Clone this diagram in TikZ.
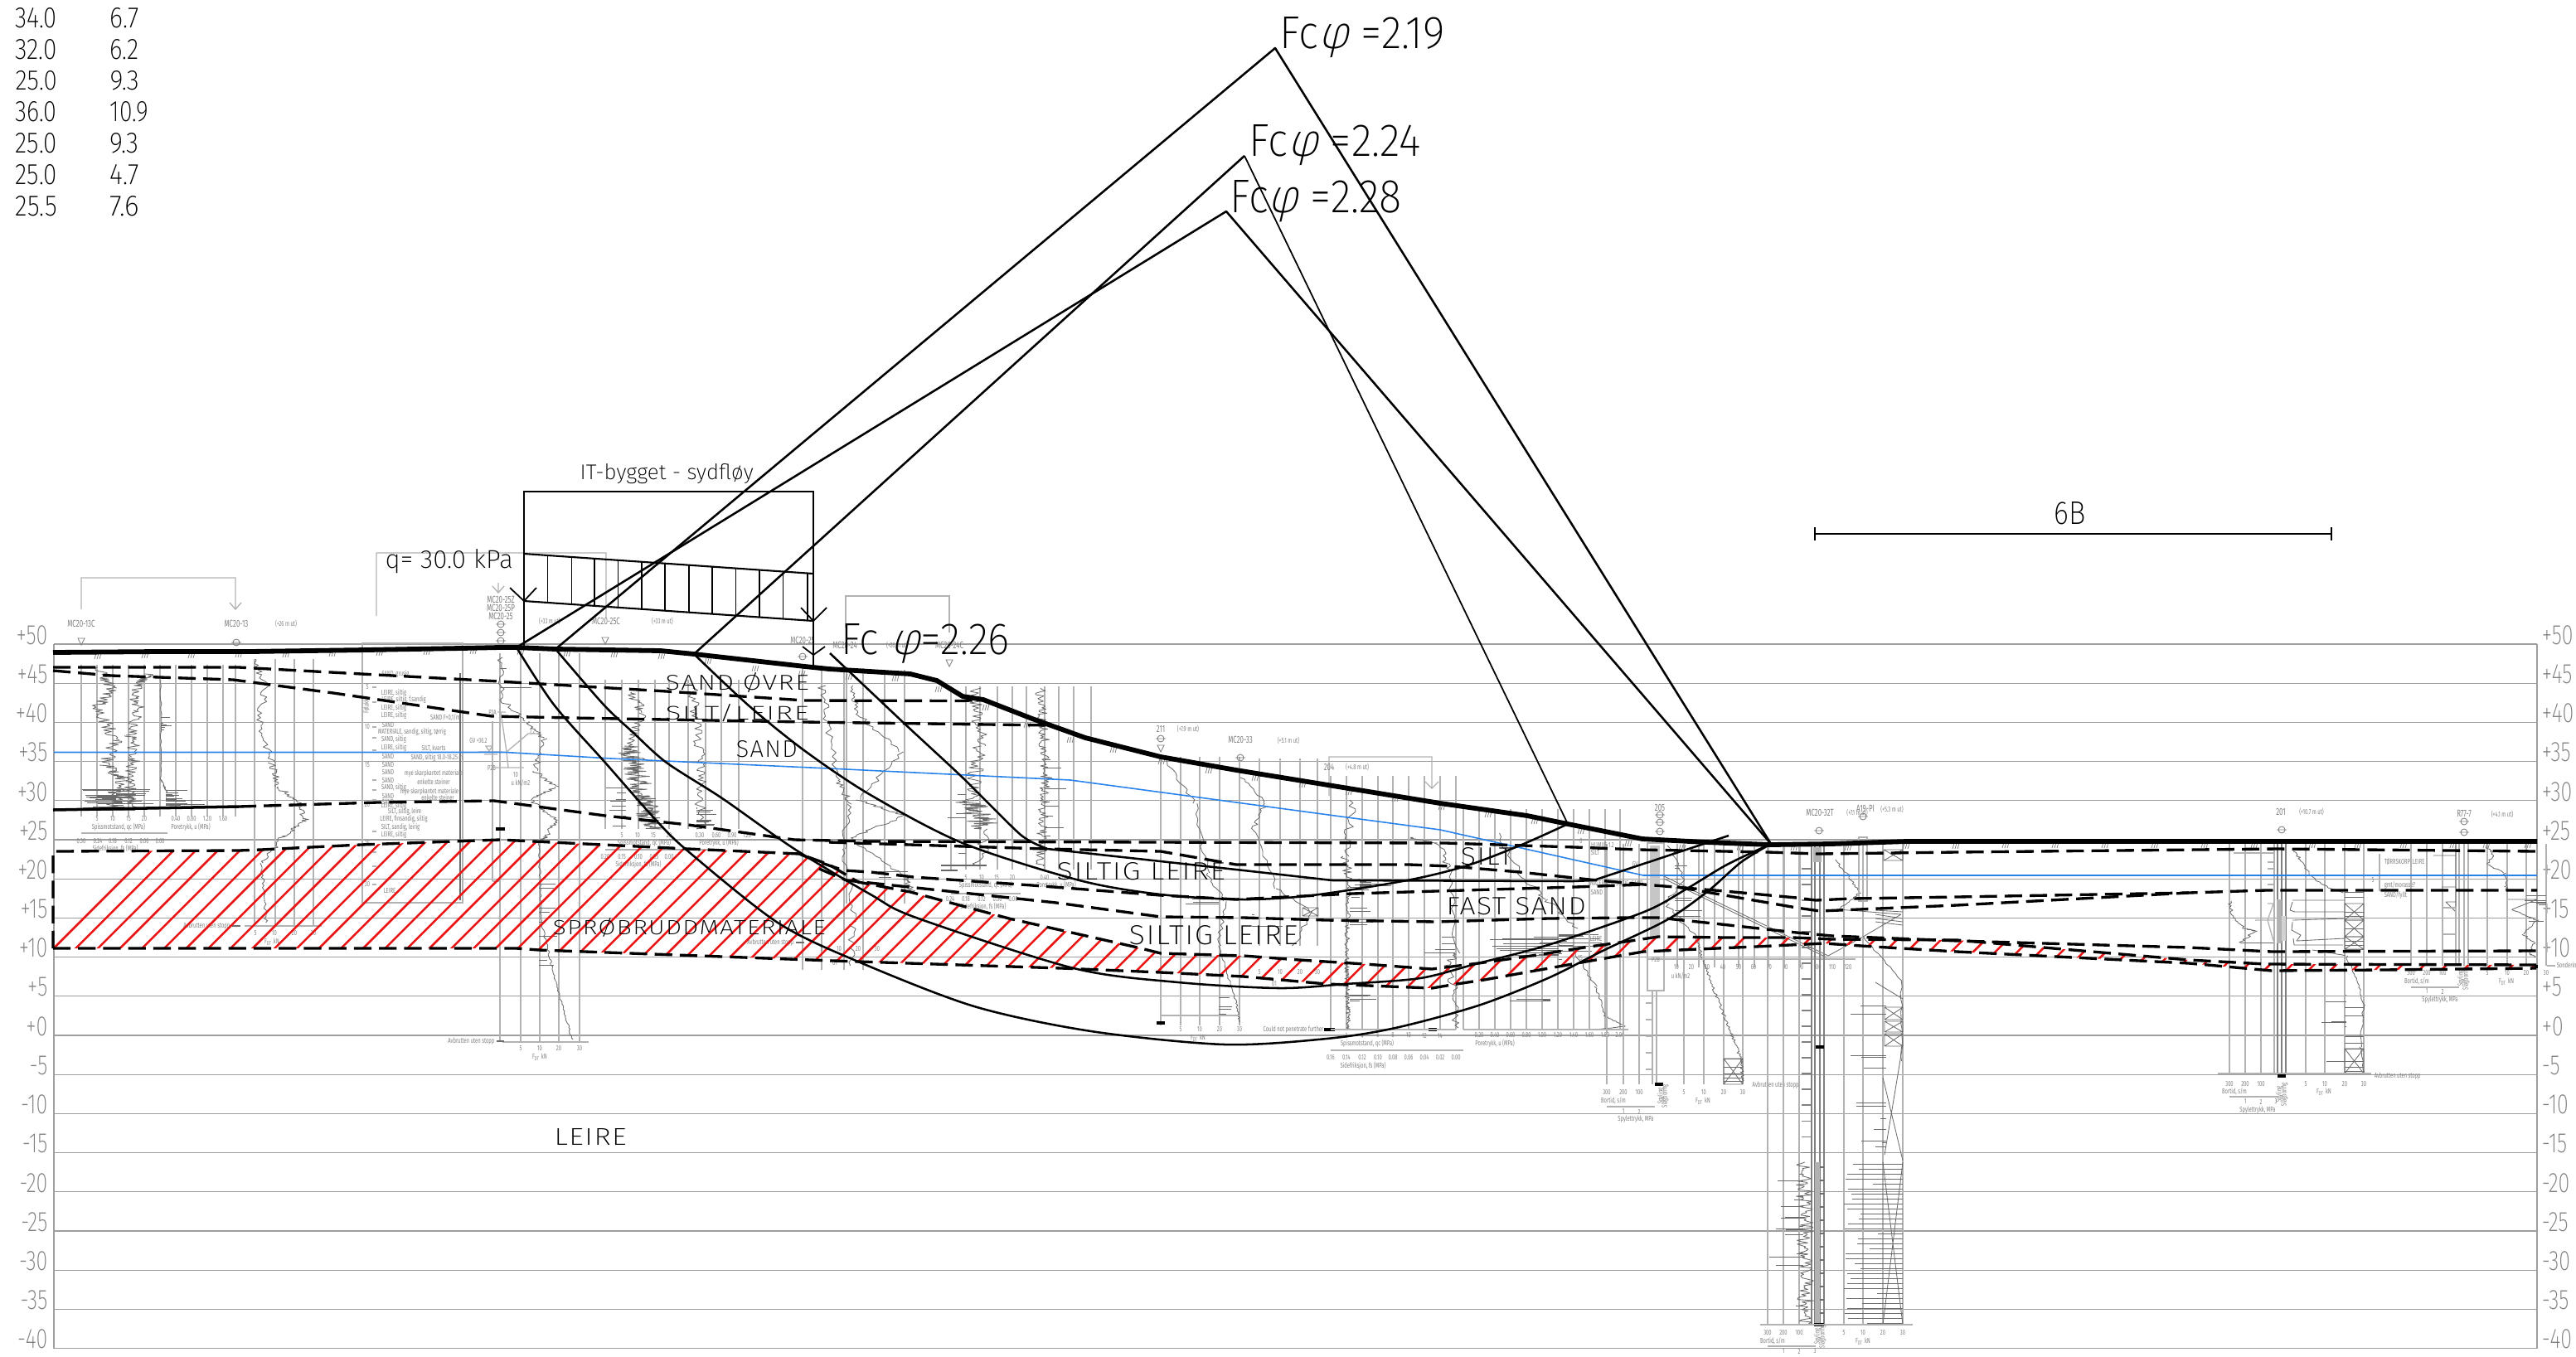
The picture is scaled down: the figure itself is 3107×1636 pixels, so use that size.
\documentclass[tikz,border=0pt]{standalone}
\usepackage{fontspec}
\usepackage{graphicx}
\setmainfont{Fira Sans Light}
\newfontfamily\iso{Fira Sans ExtraLight}
\newfontfamily\isosp{Fira Sans ExtraLight}[LetterSpace=4,FakeStretch=0.92]
\newfontfamily\isoslant{Fira Sans ExtraLight}[FakeSlant=0.25]
\newfontfamily\ison{Fira Sans ExtraLight}[FakeStretch=0.74]
\newfontfamily\isot{Fira Sans}[FakeStretch=0.66]
\definecolor{gridc}{gray}{0.62}
\definecolor{vc}{gray}{0.70}
\definecolor{trc}{gray}{0.42}
\definecolor{tinyc}{gray}{0.50}
\definecolor{numc}{gray}{0.50}
\definecolor{wat}{RGB}{40,130,235}
\definecolor{hat}{RGB}{235,20,20}
\newcounter{nn}
\tikzset{
 gline/.style={draw=gridc,line width=0.34pt},
 vline/.style={draw=vc,line width=0.38pt},
 trline/.style={draw=trc,line width=0.24pt,line join=round},
 gnd/.style={draw=black,line width=1.65pt,line join=round},
 dsh/.style={draw=black,line width=0.95pt,dash pattern=on 6pt off 2.6pt},
 surf/.style={draw=black,line width=0.72pt,line join=round},
 thinsurf/.style={draw=black,line width=0.5pt},
 redh/.style={draw=hat,line width=0.72pt},
 blk/.style={draw=black,line width=0.5pt},
 numlab/.style={inner sep=0,text=numc,font=\ison\fontsize{9.6}{10}\selectfont},
 gtext/.style={inner sep=0,text=tinyc,font=\isot\fontsize{3.4}{3.8}\selectfont},
 gsmall/.style={inner sep=0,text=tinyc,font=\isot\fontsize{2.5}{3}\selectfont},
}
% x0, x1, baseline, top, text
\newcommand\lab[5]{\stepcounter{nn}\pgfmathsetmacro\wlab{(#2-#1)*0.01}\pgfmathsetmacro\hlab{(#3-#4)*0.01}%
 \node[anchor=base west,inner sep=0,text=black] (L\thenn) at (#1,#3) {\resizebox{\wlab cm}{\hlab cm}{\iso #5}};}
\newcommand\gtx[3]{\stepcounter{nn}\node[gtext] (T\thenn) at (#1,#2) {#3};}
\newcommand\gsx[3]{\stepcounter{nn}\node[gsmall] (S\thenn) at (#1,#2) {#3};}
\newcommand\gsw[3]{\stepcounter{nn}\node[gsmall,anchor=west] (S\thenn) at (#1,#2) {#3};}
\newcommand\gsr[3]{\stepcounter{nn}\node[gsmall,anchor=east] (S\thenn) at (#1,#2) {#3};}
\newcommand\gsv[3]{\stepcounter{nn}\node[gsmall,rotate=90] (S\thenn) at (#1,#2) {#3};}
\newcommand\fdt{F\raisebox{-0.6pt}{\fontsize{1.9}{2}\selectfont DT}\ \ kN}
\newcommand\vlin[3]{\foreach \xv in {#3} {\draw[vline] (\xv,#1)--(\xv,#2);}}
\newcommand\jag[6]{\draw[trline] plot[variable=\t,domain=0:1,samples=#6] ({#1+(#3-#1)*\t+(#5)*rand},{#2+(#4-#2)*\t});}
\newcommand\chain[5]{\foreach \xc/\yc [remember=\xc as \lxc (initially #3),remember=\yc as \lyc (initially #4)] in {#5} {\jag{\lxc}{\lyc}{\xc}{\yc}{#1}{#2}}}
\newcommand\spk[5]{\foreach \ii in {1,...,#5} {\pgfmathsetmacro\yys{#3+rnd*(#4-#3)}\pgfmathsetmacro\xxs{#1+rnd*(#2)}\draw[trline] (#1,\yys)--(\xxs,\yys);}}
\newcommand\xbx[4]{\draw[trline] (#1,#3) rectangle (#2,#4) (#1,#3)--(#2,#4) (#2,#3)--(#1,#4);}
\newcommand\symb[2]{\draw[draw=tinyc,line width=0.25pt] (#1,#2) circle (4) (#1-6,#2)--(#1+6,#2);}
\newcommand\trisym[2]{\draw[draw=tinyc,line width=0.25pt] (#1-4,#2-4)--(#1+4,#2-4)--(#1,#2+4)--cycle;}
\newcommand\gmark[2]{\foreach \dd in {0,3,6} {\draw[draw=tinyc,line width=0.22pt] (#1+\dd-5,#2+4)--(#1+\dd-3,#2-3);}}
\begin{document}
\begin{tikzpicture}[x=0.01cm,y=-0.01cm]
\useasboundingbox (0,0) rectangle (3107,1636);
\pgfmathsetseed{11}
% ---------- grid
\foreach \e in {50,45,...,-40} {
 \pgfmathsetmacro\yg{777+(50-\e)*9.44}
 \draw[gline] (65,\yg)--(3060,\yg);
 \pgfmathtruncatemacro\ee{abs(\e)}
 \stepcounter{nn}\node[numlab,anchor=east] (NL\thenn) at (58,\yg-11) {\ifnum\e<0 -\else +\fi\ee};
 \stepcounter{nn}\node[numlab,anchor=west] (NR\thenn) at (3065,\yg-11) {\ifnum\e<0 -\else +\fi\ee};
}
\draw[gline] (65,777)--(65,1627);
\draw[gline] (3060,777)--(3060,1627);
% ---------- header brackets
\draw[vline] (98,735)--(98,697)--(284,697)--(284,735) (277,727)--(284,735)--(291,727);
\draw[vline] (454,743)--(454,667)--(731,667)--(731,745) (601,667)--(601,676) (601,703)--(601,715) (594,707)--(601,715)--(608,707);
\draw[vline] (1020,757)--(1020,719)--(1145,719)--(1145,763);
\draw[vline] (1603,960)--(1603,913)--(1727,913)--(1727,951) (1719,943)--(1727,951)--(1735,943);
% ---------- MC20-13C
\vlin{802}{985}{98,117,136,155,174,193,212,231,250,269,284}
\gtx{98}{752}{MC20-13C}\gtx{285}{752}{MC20-13}\gsx{345}{752}{(+26 m ut)}
\trisym{98}{774}\symb{285}{775}
\chain{9}{24}{117}{805}{136/830,118/853,140/893,128/923,148/940,135/975}
\chain{8}{24}{179}{813}{162/833,167/857,158/887,163/913,155/943,160/975}
\chain{1}{30}{194}{820}{194/940,202/957}
\spk{140}{-42}{952}{978}{30}\spk{140}{45}{952}{978}{28}
\spk{200}{50}{953}{975}{18}\spk{194}{18}{860}{885}{6}
\foreach \a/\b in {117/5,136/10,155/15,174/20,212/0.40,231/0.80,250/1.20,269/1.60} {\gsx{\a}{988}{\b}}
\gsx{143}{998}{Spissmotstand, qc (MPa)}\gsx{230}{998}{Poretrykk, u (MPa)}
\draw[vline] (98,1005)--(202,1005);
\foreach \a/\b in {98/0.30,118/0.24,136/0.18,155/0.12,174/0.06,193/0.00} {\gsx{\a}{1015}{\b}}
\gsx{139}{1024}{Sidefriksjon, fs (MPa)}
% ---------- MC20-13
\vlin{795}{1117}{307,332,355,378}
\chain{5}{18}{305}{795}{321/827,312/874,328/920,335/949,362/970,368/991,341/1009,315/1041}
\chain{2}{30}{315}{1041}{321/1113}
\draw[vline] (295,1117)--(388,1117);
\foreach \a/\b in {308/5,331/10,355/20,378/30} {\gsx{\a}{1126}{\b}}
\gsx{328}{1136}{\fdt}\gsr{278}{1117}{Avbrutten uten stopp}
\draw[draw=trc,line width=.6pt] (280,1117)--(290,1117);
% ---------- borehole description
\draw[vline] (437,776) rectangle (558,1089);
\draw[draw=trc,line width=0.7pt] (555,812)--(555,1086);
\foreach \yy in {829,847,877,890,905,941,953,965,1003,1028,1045,1067} {\draw[vline] (449,\yy)--(454,\yy);}
\foreach \a/\b in {829/5,877/10,923/15,971/20,1018/25,1067/30} {\gsx{443}{\a}{\b}}
\gsv{442}{852}{Følakk}
\foreach \a/\b/\c in {477/813/{SAND, grusig},475/836/{LEIRE, siltig},487/844/{LEIRE, siltig, f.sandig},475/854/{LEIRE, siltig},475/863/{LEIRE, siltig},537/866/{SAND F=0,1/m},468/874/{SAND},497/883/{MATERIALE, sandig, siltig, tørrig},475/892/{SAND, siltig},475/902/{LEIRE, siltig},523/903/{SILT, kvarts},468/912/{SAND},527/914/{SAND, siltig 18.0-18.25 m},468/922/{SAND},468/931/{SAND},523/933/{mye skarpkantet materiale},523/943/{enkelte steiner},468/941/{SAND},475/950/{SAND, siltig},518/955/{mye skarpkantet materiale},468/960/{SAND},528/962/{enkelte steiner},468/967/{SAND},475/972/{LEIRE, siltig},488/979/{SILT, siltig, leire},487/988/{LEIRE, finsandig, siltig},483/998/{SILT, sandig, leirig},475/1007/{LEIRE, siltig},470/1074/{LEIRE}} {\gsx{\a}{\b}{\c}}
% ---------- MC20-25
\gtx{604}{723}{MC20-25Z}\gtx{604}{733}{MC20-25P}\gtx{604}{743}{MC20-25}
\symb{604}{753}\symb{604}{763}\symb{604}{773}
\vlin{788}{1256}{603,628,651,674,699}
\draw[vline] (594,870)--(594,1063) (594,1063)--(603,1063);
\chain{4}{16}{603}{793}{606/845,635/870,656/891,645/930,670/949,640/965,670/988,660/1009,650/1016}
\chain{1.2}{40}{650}{1016}{653/1113,670/1184,690/1254}
\spk{650}{22}{1040}{1250}{8}\spk{603}{40}{805}{830}{2}
\draw[vline] (606,1257)--(710,1257);
\foreach \a/\b in {628/5,651/10,674/20,699/30} {\gsx{\a}{1265}{\b}}
\gsx{651}{1275}{\fdt}\gsr{597}{1256}{Avbrutten uten stopp}
\draw[draw=trc,line width=.6pt] (599,1256)--(608,1256);
\gsx{594}{859}{P2A}\gsx{593}{926}{P2B}\gsx{577}{893}{GV +36.2}\gsx{622}{935}{10}\gsx{628}{944}{u kN/m2}\gsx{642}{883}{7.2}
\draw[vline] (604,859)--(611,907)--(613,926) (611,907)--(637,885)--(650,885) (597,926)--(632,926) (600,859)--(610,859);
\draw[vline] (577,907)--(606,907) (584,910)--(600,910) (586,900)--(594,900)--(590,906)--cycle;
\draw[draw=black,line width=1.1pt] (598,1000)--(609,1000);
% ---------- MC20-25C group
\vlin{820}{1000}{730,750,770,790,807,830,851,870,891}
\gsx{663}{749}{(+33 m ut)}\gtx{731}{749}{MC20-25C}\gsx{799}{749}{(+33 m ut)}\trisym{730}{773}
\chain{7}{24}{762}{835}{775/860,760/900}
\chain{15}{70}{760}{900}{775/960,788/1000}
\spk{755}{-32}{895}{1000}{12}
\chain{7}{36}{835}{830}{845/920,845/1000}\spk{840}{30}{970}{1000}{12}
\foreach \a/\b in {750/5,769/10,788/15,807/20,844/0.30,864/0.60,883/0.90,901/1.20} {\gsx{\a}{1008}{\b}}
\gsx{777}{1017}{Spissmotstand, qc (MPa)}\gsx{867}{1017}{Poretrykk, u (MPa)}
\draw[vline] (730,1025)--(864,1025);
\foreach \a/\b in {730/0.20,750/0.15,770/0.10,789/0.05,807/0.00} {\gsx{\a}{1034}{\b}}
\gsx{770}{1043}{Sidefriksjon, fs (MPa)}
% ---------- MC20-24 group
\vlin{806}{1170}{968,991,1018,1041}
\vlin{808}{1090}{1021,1067,1091}
\gtx{968}{772}{MC20-25}\symb{968}{792}
\gtx{1019}{778}{MC20-24}\gsx{1082}{778}{(+26 m ut)}\gtx{1145}{778}{MC20-24C}\trisym{1145}{800}
\chain{5}{16}{991}{827}{998/870,1011/941,1025/970,1018/1024,1028/1098,1028/1165}
\chain{4}{16}{1028}{827}{1035/862,1088/907,1035/965,1091/984,1025/1011,1091/1057,1100/1075}
\spk{1060}{40}{1040}{1060}{4}
\foreach \a/\b in {991/5,1012/10,1035/20,1058/30} {\gsx{\a}{1145}{\b}}
\gsx{1007}{1162}{01}\gsr{958}{1137}{Avbrutten uten stopp}
\draw[draw=trc,line width=.6pt] (960,1137)--(970,1137);
\vlin{828}{1049}{1147,1165,1182,1203,1221,1238,1260,1277,1295,1316}
\chain{10}{36}{1175}{830}{1182/900,1170/965}
\chain{19}{50}{1170}{965}{1190/1000}\chain{8}{16}{1190}{1000}{1180/1045}
\spk{1165}{-22}{950}{1040}{5}
\chain{7}{70}{1255}{830}{1262/940,1255/1045}\spk{1260}{30}{880}{1030}{8}
\draw[draw=black!60,line width=.5pt] (1135,1050)--(1155,1050) (1135,1044)--(1190,1044);
\foreach \a/\b in {1165/5,1184/10,1202/15,1221/20,1260/0.40,1282/0.80} {\gsx{\a}{1059}{\b}}
\gsx{1189}{1068}{Spissmotstand, qc (MPa)}\gsx{1274}{1068}{Poretrykk, u (MPa)}
\draw[vline] (1147,1078)--(1231,1078);
\foreach \a/\b in {1146/0.24,1165/0.18,1184/0.12,1203/0.06,1222/0.00} {\gsx{\a}{1085}{\b}}
\gsx{1186}{1094}{Sidefriksjon, fs (MPa)}
% ---------- 211
\gtx{1400}{879}{211}\gsx{1433}{879}{(+7.9 m ut)}\symb{1400}{891}\trisym{1400}{903}
\vlin{913}{1237}{1400,1424,1447,1471,1495}
\chain{3}{14}{1403}{915}{1442/969,1456/1053,1477/1087,1470/1141}
\chain{1.2}{22}{1470}{1141}{1491/1210,1495/1233}
\spk{1470}{-55}{1075}{1095}{3}\spk{1470}{25}{1195}{1230}{4}
\draw[draw=black,line width=1pt] (1395,1234)--(1405,1234);
\foreach \a/\b in {1424/5,1447/10,1471/20,1495/30} {\gsx{\a}{1242}{\b}}
\gsx{1445}{1252}{\fdt}
\draw[vline] (1400,1225)--(1495,1225);
% ---------- MC20-33
\gtx{1496}{892}{MC20-33}\gsx{1554}{893}{(+5.1 m ut)}\symb{1496}{914}
\vlin{915}{1141}{1519,1544,1568,1589}
\chain{3}{14}{1498}{938}{1526/969,1512/999,1540/1072,1582/1099,1561/1141}
\spk{1510}{40}{1100}{1130}{3}
\foreach \a/\b in {1519/5,1544/10,1568/20,1589/30} {\gsx{\a}{1173}{\b}}
\gsx{1537}{1187}{01}
\xbx{1571}{1590}{1095}{1105}
% ---------- 204
\gtx{1603}{925}{204}\gsx{1637}{925}{(+4.8 m ut)}
\vlin{936}{1242}{1605,1624,1643,1662,1680,1699,1718,1737,1756}
\vlin{976}{1242}{1765,1784,1803,1822,1841,1860,1879,1898,1917,1936,1954}
\chain{6}{20}{1632}{965}{1623/1033,1627/1063}
\chain{3}{55}{1627}{1063}{1624/1150,1625/1200,1626/1242}
\spk{1640}{40}{1060}{1080}{12}\spk{1640}{-25}{1060}{1085}{6}
\spk{1628}{45}{1095}{1120}{6}\spk{1628}{40}{1200}{1208}{5}
\chain{5}{14}{1700}{1010}{1733/1017,1750/1050,1756/1150,1745/1165,1756/1200,1756/1240}
\spk{1755}{-40}{1130}{1150}{4}
\chain{5}{14}{1805}{1005}{1840/1063,1865/1085,1900/1120}
\spk{1880}{-85}{1130}{1155}{16}\spk{1880}{60}{1125}{1160}{16}\spk{1870}{-60}{1205}{1207}{5}
\chain{2}{16}{1900}{1150}{1925/1190,1935/1225,1960/1238,1925/1242}
\draw[draw=black,line width=1pt] (1597,1242)--(1610,1242) (1723,1242)--(1733,1242);
\draw[vline] (1605,1242)--(1756,1242) (1765,1242)--(1964,1242);
\gsx{1560}{1242}{Could not penetrate further}
\foreach \a/\b in {1624/2,1643/4,1662/6,1680/8,1699/10,1718/12,1737/14,1784/0.20,1803/0.40,1822/0.60,1841/0.80,1860/1.00,1879/1.20,1898/1.40,1917/1.60,1936/1.80,1954/2.00} {\gsx{\a}{1249}{\b}}
\gsx{1649}{1259}{Spissmotstand, qc (MPa)}\gsx{1803}{1259}{Poretrykk, u (MPa)}
\draw[vline] (1605,1267)--(1765,1267);
\foreach \a/\b in {1605/0.16,1624/0.14,1643/0.12,1662/0.10,1680/0.08,1699/0.06,1718/0.04,1737/0.02,1756/0.00} {\gsx{\a}{1276}{\b}}
\gsx{1644}{1286}{Sidefriksjon, fs (MPa)}
% ---------- 205
\gtx{2002}{974}{205}\symb{2002}{983}\symb{2002}{992}\symb{2002}{1003}
\vlin{1018}{1308}{1938,1958,1977,2031,2055,2079,2102}
\vlin{1018}{1167}{1917,2023,2049,2068,2097,2116,2133,2152,2171}
\draw[vline] (1987,1017) rectangle (2007,1195);
\draw[fill=gray!45,draw=none] (1990,1020) rectangle (2002,1130);
\vlin{1195}{1308}{1993,1998}
\foreach \yy in {1210,1230,1250,1270,1290} {\draw[vline] (1985,\yy)--(1993,\yy);}
\chain{4}{12}{2013}{1020}{2030/1060,2010/1090,2045/1130}
\chain{2}{30}{2045}{1130}{2057/1167,2080/1227,2100/1277,2102/1305}
\spk{2020}{40}{1040}{1110}{7}
\foreach \yy in {1277,1287,1295,1300,1304} {\draw[trline] (2079,\yy)--(2102,\yy);}
\xbx{2079}{2102}{1277}{1308}
\draw[trline] (2007,1057)--(2205,1153)--(2247,1130) (2007,1060)--(2203,1155);
\draw[vline] (1987,1157)--(2238,1157);
\foreach \a/\b in {2022/10,2040/20,2059/30,2078/40,2097/50,2115/60,2134/70,2153/80,2172/90,2192/100,2210/110,2229/120} {\gsx{\a}{1167}{\b}}
\gsx{2027}{1177}{u kN/m2}
\foreach \a/\b/\c in {1907/1015/0,1933/1019/{HUMUS 1.2},1924/1028/SILT,1950/1066/{MATERIALE, SILTIG, SAND},1926/1076/SAND,1925/1132/LEIRE,1906/1156/15,1997/1157/P2B,1972/1042/GV} {\gsx{\a}{\b}{\c}}
\foreach \a/\b in {1938/300,1958/200,1977/100,2031/5,2055/10,2079/20,2102/30} {\gsx{\a}{1318}{\b}}
\gsx{1946}{1328}{Bortid, s/m}\gsx{2054}{1328}{\fdt}
\draw[vline] (1938,1335)--(1996,1335);
\gsx{1958}{1341}{1}\gsx{1977}{1341}{2}\gsx{1973}{1350}{Spylettrykk, MPa}
\gsw{2113}{1309}{Avbrutten uten stopp}
\draw[draw=black,line width=1pt] (1996,1308)--(2006,1308);
\gsv{2003}{1322}{Spyling}\gsv{2008}{1322}{Slagboring}
% ---------- MC20-32T
\gtx{2195}{980}{MC20-32T}\gsx{2240}{980}{(+7.1 m ut)}\symb{2194}{1002}
\gtx{2250}{975}{A19-PI}\gsx{2282}{976}{(+5.3 m ut)}\symb{2247}{985}
\vlin{1018}{1598}{2132,2151,2170,2224,2247,2271,2295}
\draw[draw=tinyc,line width=.5pt] (2185,1018)--(2185,1598) (2189,1018)--(2189,1598) (2195,1018)--(2195,1598) (2200,1018)--(2200,1598);
\draw[fill=gray!60,draw=none] (2189,1402) rectangle (2195,1598);
\draw[fill=gray!60,draw=none] (2187,1022) rectangle (2197,1040);
\foreach \yy in {1048,1067,...,1400} {\draw[draw=tinyc,line width=.3pt] (2173,\yy)--(2185,\yy);}
\chain{10}{130}{2176}{1402}{2178/1598}
\spk{2175}{-42}{1402}{1598}{18}
\foreach \yy in {1408,1424,...,1596} {\draw[draw=trc,line width=.45pt] (2195,\yy)--(2200,\yy);}
\foreach \yy in {1404,1410,...,1598} {\pgfmathsetmacro\xxq{2224+rnd*rnd*50}\draw[draw=trc,line width=.3pt] (\xxq,\yy)--(2295,\yy);}
\draw[trline] (2271,1402)--(2295,1598) (2295,1402)--(2271,1598) (2271,1300)--(2295,1400) (2295,1260)--(2273,1393);
\chain{2}{12}{2213}{1037}{2230/1057,2243/1077,2217/1097}
\draw[trline] (2217,1097)--(2293,1103) (2293,1103)--(2247,1130);
\chain{1.5}{14}{2247}{1130}{2293/1183,2294/1280}
\foreach \a/\b in {1098/1100,1103/1108,1108/1112,1112/1116,1185/1205} {\draw[trline] (2262,\a)--(2295,\b);}
\xbx{2273}{2295}{1215}{1230}\xbx{2273}{2295}{1232}{1245}\xbx{2273}{2295}{1247}{1262}\xbx{2272}{2295}{1025}{1038}
\spk{2275}{-50}{1205}{1395}{12}
\draw[vline] (2242,1010) rectangle (2252,1087);
\draw[draw=black,line width=1pt] (2190,1263)--(2200,1263) (2188,1598)--(2200,1598);
\draw[vline] (2123,1598)--(2307,1598);
\foreach \a/\b in {2132/300,2151/200,2170/100,2224/5,2247/10,2271/20,2295/30} {\gsx{\a}{1608}{\b}}
\gsx{2138}{1618}{Bortid, s/m}\gsx{2247}{1618}{\fdt}
\draw[vline] (2132,1624)--(2190,1624);
\gsx{2151}{1630}{1}\gsx{2170}{1630}{2}\gsx{2189}{1630}{3}
\gsv{2192}{1612}{Spyling}\gsv{2198}{1612}{Slagboring}
% ---------- 201
\gtx{2751}{979}{201}\gsx{2788}{979}{(+10.7 m ut)}\symb{2752}{1001}
\vlin{1018}{1295}{2689,2708,2727,2743,2781,2804,2828,2851}
\draw[draw=tinyc,line width=.35pt] (2747,1018)--(2747,1295) (2752,1018)--(2752,1295) (2757,1018)--(2757,1295);
\draw[fill=gray!60,draw=none] (2746,1085) rectangle (2752,1138);
\draw[fill=gray!35,draw=none] (2752,1105) rectangle (2757,1135);
\draw[draw=gray!60,line width=.6pt] (2694,1029)--(2743,1029);
\draw[vline] (2735,1040)--(2743,1040) (2735,1048)--(2743,1048) (2735,1067)--(2743,1067) (2728,1074)--(2743,1074);
\chain{2}{10}{2767}{1027}{2777/1040,2787/1057,2807/1070,2826/1077}
\draw[trline] (2765,1086)--(2828,1086) (2765,1088)--(2762,1098)--(2768,1100)--(2828,1100) (2765,1110)--(2828,1108) (2765,1112)--(2764,1122)--(2775,1128)--(2770,1135)--(2828,1132) (2766,1132)--(2767,1140)--(2826,1140);
\chain{1.5}{12}{2790}{1146}{2830/1153,2843/1183,2851/1213,2847/1263,2851/1293}
\chain{3}{12}{2690}{1087}{2692/1107,2707/1120,2720/1123,2703/1137,2740/1137}
\draw[vline] (2720,1110)--(2742,1110) (2735,1090)--(2742,1090)--(2735,1110)--(2742,1135);
\foreach \yy in {1076,1082,1100,1105,1120,1135,1140,1145} {\draw[trline] (2828,\yy)--(2851,\yy);}
\xbx{2828}{2851}{1090}{1110}\xbx{2828}{2851}{1110}{1130}\xbx{2828}{2851}{1130}{1145}
\foreach \yy in {1215,1225,1250,1258,1265,1280,1287,1292} {\draw[trline] (2828,\yy)--(2851,\yy);}
\xbx{2828}{2851}{1265}{1295}\spk{2830}{-30}{1200}{1290}{6}
\draw[vline] (2675,1295)--(2860,1295);
\draw[draw=black,line width=1pt] (2747,1298)--(2757,1298);
\foreach \a/\b in {2689/300,2708/200,2727/100,2781/5,2804/10,2828/20,2851/30} {\gsx{\a}{1308}{\b}}
\gsx{2695}{1317}{Bortid, s/m}\gsx{2803}{1317}{\fdt}\gsw{2863}{1298}{Avbrutten uten stopp}
\draw[vline] (2689,1323)--(2747,1323);
\gsx{2708}{1329}{1}\gsx{2727}{1329}{2}\gsx{2745}{1329}{3}\gsx{2723}{1339}{Spylettrykk, MPa}
\gsv{2749}{1320}{Spyling}\gsv{2755}{1320}{Slagboring}
\gsw{2875}{1039}{TØRRSKORPELEIRE}\gsw{2875}{1068}{gmt/morasse?}\gsw{2875}{1080}{SAND/fyllt}\gsx{2862}{1062}{5}
\draw[vline] (2870,1030)--(2870,1075);
% ---------- R77-7
\gtx{2972}{981}{R77-7}\gsx{3018}{982}{(+4.1 m ut)}\symb{2972}{991}\symb{2972}{1004}
\vlin{1018}{1165}{2908,2927,2946,2962,2966,2972,2977,3000,3024,3047}
\draw[vline] (3071,1018)--(3071,1165);
\draw[trline] (2935,1032)--(2962,1032) (2962,1020)--(2962,1100)--(2950,1088)--(2962,1088) (2945,1070)--(2962,1070);
\draw[vline] (2946,1095)--(2962,1095)--(2962,1127)--(2946,1127);
\chain{2.5}{10}{3000}{1022}{3007/1030,3000/1043,3020/1053,3023/1070,3025/1075}
\chain{2}{12}{3030}{1097}{3060/1110,3043/1127,3057/1137,3050/1150,3058/1155}
\draw[trline] (3030,1097)--(3060,1085)--(3025,1085);
\spk{3071}{-28}{1080}{1092}{8}\spk{3050}{20}{1106}{1112}{2}
\foreach \a/\b in {2908/300,2927/200,2946/100,3000/5,3024/10,3047/20,3071/30} {\gsx{\a}{1174}{\b}}
\gsx{2915}{1184}{Bortid, s/m}\gsx{3023}{1184}{\fdt}
\draw[vline] (2908,1191)--(2966,1191);
\gsx{2927}{1196}{1}\gsx{2946}{1196}{2}\gsx{2943}{1206}{Spylettrykk, MPa}
\gsv{2968}{1180}{Spyling}\gsv{2974}{1180}{Slagboring}
\draw[vline] (3072,1165)--(3082,1165);
\gsw{3083}{1165}{Sondering}
% ---------- ground marks
\foreach \a/\b in {119/791,176/790,232/790,289/789,346/789,402/788,459/787,516/786,572/785,629/786,685/788,742/789,799/791,855/797,912/806,968/812,1025/816,1081/818,1133/831,1190/853,1240/874,1292/892,1344/904,1402/918,1459/929,1515/938,1572/946,1628/955,1684/963,1740/973,1796/982,1852/990,1908/1002,1965/1017,2030/1022,2100/1022,2165/1022,2230/1022,2300/1020,2360/1020,2420/1019,2480/1019,2540/1019,2600/1019,2660/1019,2720/1019,2790/1019,2845/1019,2900/1019,2960/1019,3000/1019,3050/1019} {\gmark{\a}{\b}}
% ---------- water table
\draw[draw=wat,line width=0.45pt] (65,907.5)--(610,907.5)--(737,915)--(1000,927)--(1291,941)--(1610,984)--(1737,1001)--(1982,1056);
\draw[draw=wat,line width=0.7pt] (1982,1056)--(3060,1056);
% ---------- hatch
\begin{scope}
\clip (64,1027)--(288,1026)--(315,1025)--(435,1019)--(603,1013)--(830,1024)--(964,1030)--(1000,1043)--(1035,1064)--(1098,1076)--(1217,1108)--(1288,1124)--(1372,1143)--(1400,1150)--(1500,1153)--(1567,1158)--(1647,1163)--(1727,1169)--(1783,1162)--(1847,1153)--(1917,1142)--(1967,1135)--(2000,1130)--(2083,1131)--(2163,1131)--(2210,1133)--(2360,1134)--(2640,1158)--(2733,1163)--(3059,1164)--(3059,1168)--(2873,1170)--(2740,1171)--(2640,1162)--(2360,1148)--(2260,1142)--(2200,1138)--(2117,1142)--(2025,1146)--(1982,1148)--(1913,1160)--(1857,1170)--(1790,1182)--(1757,1187)--(1727,1192)--(1600,1187)--(1500,1178)--(1400,1173)--(1281,1168)--(1005,1159)--(871,1154)--(650,1146)--(623,1144)--(64,1144)--cycle;
\foreach \k in {-14,...,105} {
 \pgfmathsetmacro\cc{1582+26.66*\k}
 \draw[redh] (\cc-1000,1000)--(\cc-1200,1200);
}
\end{scope}
% ---------- dashed layers
\draw[dsh] (64,805)--(288,805)--(603,822)--(804,834)--(971,845)--(1161,845.5)--(1186,844);
\draw[dsh] (64,809)--(134,815)--(281,820)--(402,836)--(593,864)--(690,866)--(971,871)--(1267,875);
\draw[draw=black,line width=1pt] (64,977)--(288,973);
\draw[dsh] (288,973)--(455,968)--(596,966)--(730,984)--(830,995)--(958,1013)--(1050,1015)--(1744,1017)--(1900,1022)--(1977,1025)--(2133,1028)--(2193,1030)--(2360,1028)--(2747,1024)--(3060,1027);
\draw[dsh] (1000,1016)--(1260,1024)--(1400,1027)--(1491,1043)--(1700,1043)--(1750,1045)--(1833,1052)--(1917,1061)--(1983,1067)--(2020,1070)--(2080,1075)--(2167,1083)--(2190,1086)--(2233,1084)--(2360,1082)--(2640,1077)--(2733,1074)--(3060,1074);
\draw[dsh] (2023,1070)--(2167,1095)--(2195,1099)--(2360,1092)--(2640,1077);
\draw[dsh] (964,1030)--(988,1040)--(1018,1050)--(1050,1052)--(1102,1058)--(1245,1068)--(1400,1080)--(1491,1085)--(1631,1078)--(1900,1070)--(1983,1067);
\draw[dsh] (988,1048)--(1021,1062)--(1274,1089)--(1400,1106)--(1500,1107)--(1600,1110)--(1733,1112)--(1867,1108)--(1967,1107)--(2000,1107)--(2067,1114)--(2167,1125)--(2210,1129)--(2362,1135)--(2640,1143)--(2740,1148)--(3059,1147);
% red zone outline
\draw[dsh] (64,1144)--(64,1027)--(288,1026)--(315,1025)--(435,1019)--(603,1013)--(830,1024)--(964,1030)--(1000,1043)--(1035,1064)--(1098,1076)--(1217,1108)--(1288,1124)--(1372,1143)--(1400,1150)--(1500,1153)--(1567,1158)--(1647,1163)--(1727,1169)--(1783,1162)--(1847,1153)--(1917,1142)--(1967,1135)--(2000,1130)--(2083,1131)--(2163,1131)--(2210,1133)--(2360,1134)--(2640,1158)--(2733,1163)--(3059,1164);
\draw[dsh] (64,1144)--(623,1144)--(650,1146)--(871,1154)--(1005,1159)--(1281,1168)--(1400,1173)--(1500,1178)--(1600,1187)--(1727,1192)--(1757,1187)--(1790,1182)--(1857,1170)--(1913,1160)--(1982,1148)--(2025,1146)--(2117,1142)--(2200,1138)--(2260,1142)--(2360,1148)--(2640,1162)--(2740,1171)--(2873,1170)--(3059,1168);
\draw[draw=black,line width=.9pt] (3059,1164)--(3059,1168);
% ---------- ground
\draw[gnd] (64,787)--(191,786)--(301,786)--(442,784)--(556,782)--(603,781)--(623,781)--(670,783)--(797,785)--(837,789)--(971,804)--(1000,807)--(1098,813)--(1130,821)--(1161,840)--(1186,844)--(1245,867)--(1309,890)--(1400,913)--(1491,929)--(1737,969)--(1842,984)--(1891,994)--(1981,1012)--(2058,1016)--(2135,1019)--(2208,1018)--(2300,1015)--(3060,1015);
% ---------- building / load
\coordinate (bl) at (632,593); \coordinate (br) at (981,593);
\coordinate (gl) at (632,780); \coordinate (gr1) at (981,803);
\draw[blk] (gl)--(bl)--(br)--(gr1);
\draw[blk,line width=.6pt] (632,668)--(981,692) (632,725)--(981,749);
\foreach \xx in {660.6,689.6,717.2,745.4,774,802.2,830.8,859,887.6,916,944.6,973.7} {
 \pgfmathsetmacro\ya{668+(\xx-632)*24/349}\pgfmathsetmacro\yb{725+(\xx-632)*24/349}
 \draw[blk] (\xx,\ya)--(\xx,\yb);}
\draw[blk] (615,709)--(632,725)--(647,709) (966,733)--(981,749)--(997,733) (968,780)--(981,790)--(995,780);
% ---------- slip surfaces
\coordinate (ap1) at (1538,58); \coordinate (ap2) at (1501,188); \coordinate (ap3) at (1479,255);
\coordinate (g1) at (623,781); \coordinate (g2) at (670,783); \coordinate (g3) at (837,789); \coordinate (g4) at (1001,788);
\coordinate (e1) at (2136,1018); \coordinate (e2) at (1891,994); \coordinate (e3) at (2085,1008);
\draw[surf] (g1)--(ap3)--(e1);
\draw[surf] (g2)--(ap1)--(e1);
\draw[surf] (g3)--(ap2); \draw[thinsurf] (ap2)--(e2);
\draw[surf] plot[smooth,tension=.5] coordinates {(g1) (668,850) (730,920) (790,988) (830,1027) (938,1113) (1035,1160) (1175,1214) (1316,1244) (1477,1260) (1600,1253) (1683,1240) (1783,1213) (1867,1180) (1933,1147) (2010,1110) (2060,1075) (2100,1040) (e1)};
\draw[surf] plot[smooth,tension=.5] coordinates {(g2) (728,850) (764,884) (804,920) (871,963) (958,1024) (1050,1079) (1105,1107) (1295,1168) (1421,1185) (1543,1192) (1623,1187) (1713,1180) (1783,1162) (1867,1140) (1983,1100) (2033,1073) (2083,1043) (e1)};
\draw[surf] plot[smooth,tension=.5] coordinates {(g3) (904,852) (971,906) (1050,959) (1161,1017) (1302,1062) (1400,1079) (1500,1085) (1583,1080) (1697,1062) (1767,1045) (1833,1020) (e2)};
\draw[surf] plot[smooth,tension=.4] coordinates {(g4) (1091,873) (1161,938) (1231,1007) (1263,1024)};
\draw[surf] (1263,1024)--(1500,1050)--(1607,1062)--(1897,1063)--(1922,1062)--(e3);
% ---------- large labels
\lab{1543}{1742}{58}{20}{Fc{\isoslant φ} =2.19}
\lab{1506}{1713}{188}{150}{Fc{\isoslant φ} =2.24}
\lab{1483}{1690}{256}{217}{Fc{\isoslant φ} =2.28}
\lab{1014}{1217}{789}{752}{Fc {\isoslant φ}=2.26}
\lab{699}{908}{578}{559}{IT-bygget - sydfløy}
\lab{464}{618}{685}{662}{q= 30.0 kPa}
\lab{802}{975}{832}{811}{\isosp SAND ØVRE}
\lab{802}{975}{868}{849}{\isosp SILT/LEIRE}
\lab{887}{961}{913}{893}{\isosp SAND}
\lab{666}{995}{1127}{1107}{\isosp SPRØBRUDDMATERIALE}
\lab{1274}{1477}{1061}{1040}{\isosp SILTIG LEIRE}
\lab{1761}{1824}{1043}{1022}{\isosp SILT}
\lab{1744}{1912}{1103}{1082}{\isosp FAST SAND}
\lab{1361}{1565}{1139}{1116}{\isosp SILTIG LEIRE}
\lab{668}{755}{1381}{1361}{\isosp LEIRE}
\lab{2477}{2515}{632}{605}{6B}
% ---------- 6B bar
\coordinate (b6a) at (2189,644); \coordinate (b6b) at (2812,644);
\draw[blk] (b6a)--(b6b) (2189,636)--(2189,652) (2812,636)--(2812,652);
% ---------- table
\foreach \r/\yb/\yt/\a/\b/\xe in {1/33/9/34.0/6.7/167,2/71/47/32.0/6.2/167,3/108/85/25.0/9.3/167,4/146/122/36.0/10.9/178,5/184/160/25.0/9.3/167,6/222/198/25.0/4.7/167,7/260/236/25.5/7.6/167} {
 \lab{18}{68}{\yb}{\yt}{\a}
 \lab{132}{\xe}{\yb}{\yt}{\b}
}
\end{tikzpicture}
\end{document}
